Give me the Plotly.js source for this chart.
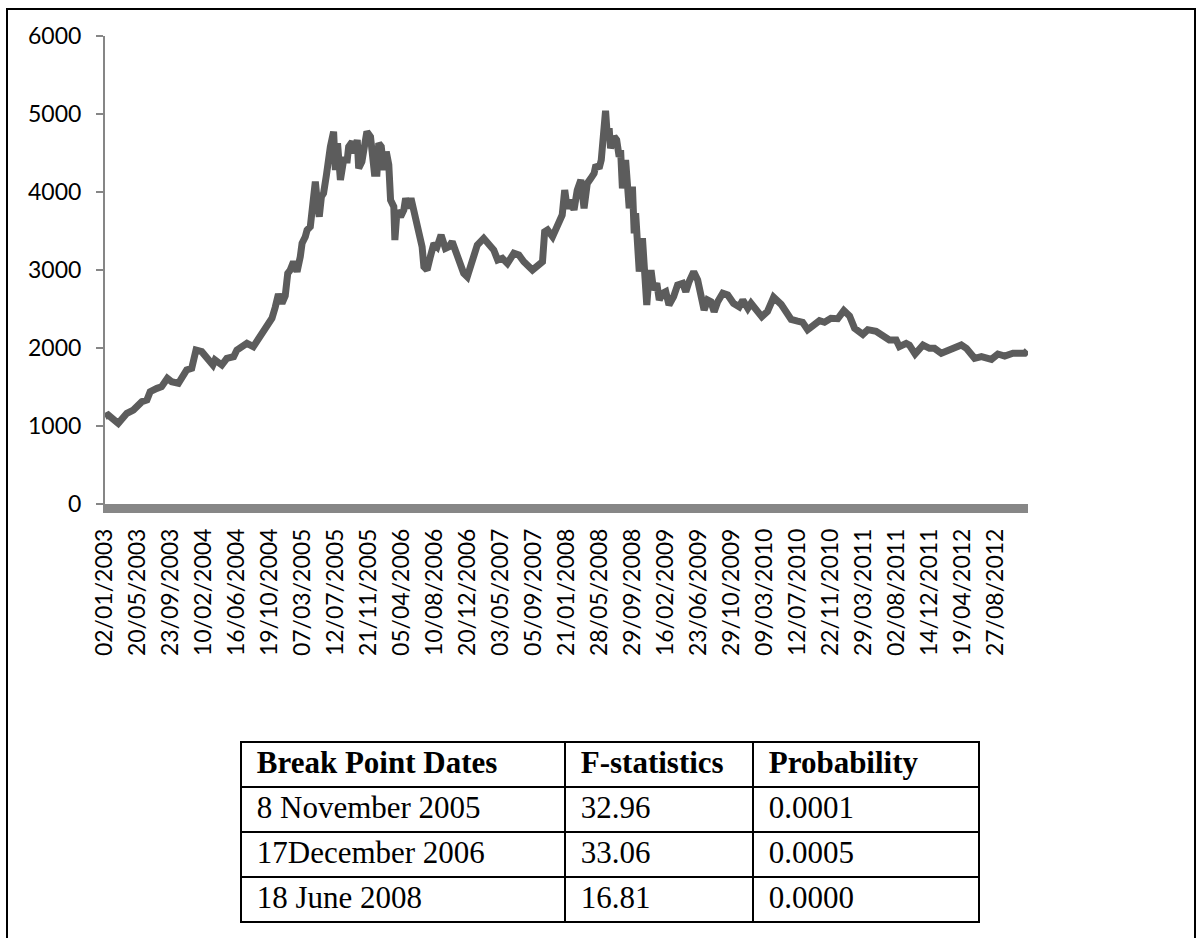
<!DOCTYPE html>
<html>
<head>
<meta charset="utf-8">
<script src="https://cdn.plot.ly/plotly-3.0.1.min.js"></script>
<style>html,body{margin:0;padding:0;background:#fff;} #chart{width:1204px;height:938px;}</style>
</head>
<body>
<div id="chart"></div>
<script>
// Category tick labels (one every 92 observations)
const tickLabels = ["02/01/2003","20/05/2003","23/09/2003","10/02/2004","16/06/2004","19/10/2004","07/03/2005","12/07/2005","21/11/2005","05/04/2006","10/08/2006","20/12/2006","03/05/2007","05/09/2007","21/01/2008","28/05/2008","29/09/2008","16/02/2009","23/06/2009","29/10/2009","09/03/2010","12/07/2010","22/11/2010","29/03/2011","02/08/2011","14/12/2011","19/04/2012","27/08/2012"];
const labelStep = 92;

const day = [0,9,37,61,79,103,117,126,145,158,174,186,205,228,242,254,270,284,301,307,326,340,359,368,396,414,433,447,466,475,484,494,503,510,517,526,536,545,550,559,564,573,578,584,587,592,598,604,610,618,624,629,638,643,649,657,666,676,680,690,696,704,708,717,727,731,741,748,752,759,764,771,778,785,792,797,806,809,815,825,834,839,848,854,867,876,885,890,899,908,918,927,938,950,960,969,978,992,1001,1011,1020,1029,1039,1057,1071,1085,1096,1109,1123,1141,1155,1169,1193,1207,1221,1227,1235,1249,1258,1267,1276,1283,1290,1300,1309,1318,1328,1337,1346,1356,1365,1370,1379,1385,1391,1397,1402,1407,1411,1421,1428,1435,1439,1444,1453,1458,1463,1472,1477,1481,1491,1500,1505,1512,1519,1525,1531,1540,1547,1556,1565,1574,1587,1598,1612,1621,1630,1643,1654,1663,1672,1682,1691,1700,1710,1724,1738,1754,1770,1780,1794,1803,1817,1833,1849,1866,1887,1901,1915,1933,1947,1961,1980,1994,2008,2026,2045,2062,2078,2092,2115,2129,2152,2175,2189,2208,2217,2236,2245,2261,2283,2301,2315,2334,2357,2371,2390,2404,2418,2427,2446,2474,2492,2511,2534,2553,2567,2574];
const price = [1119,1141,1034,1163,1205,1312,1333,1440,1483,1504,1611,1568,1547,1718,1739,1974,1953,1868,1782,1846,1782,1868,1889,1974,2060,2017,2145,2231,2381,2520,2690,2573,2668,2958,3000,3106,2979,3170,3342,3427,3513,3555,3727,3897,4132,3897,3683,3940,3983,4218,4453,4581,4773,4282,4624,4154,4410,4410,4581,4645,4496,4667,4304,4389,4667,4773,4709,4410,4239,4239,4624,4581,4282,4517,4350,3897,3812,3384,3760,3683,3769,3919,3791,3919,3641,3470,3299,3042,3000,3170,3342,3299,3449,3278,3299,3363,3256,3106,2958,2914,3064,3214,3320,3406,3320,3256,3128,3150,3085,3214,3192,3106,3000,3064,3106,3491,3513,3427,3534,3641,3705,4025,3791,3897,3769,4025,4154,3791,4111,4175,4239,4346,4304,4410,4837,5042,4709,4816,4560,4709,4667,4453,4538,4047,4410,4068,3791,4068,3470,3727,2979,3406,2979,2551,2958,2958,2744,2829,2615,2701,2722,2551,2658,2808,2829,2722,2850,2979,2872,2701,2487,2615,2594,2465,2594,2701,2679,2573,2529,2615,2508,2573,2487,2401,2470,2650,2560,2445,2367,2345,2330,2235,2305,2350,2330,2381,2375,2480,2410,2252,2175,2235,2215,2145,2102,2102,2017,2060,2038,1923,2038,1996,1996,1932,1974,1996,2038,1996,1910,1868,1889,1855,1923,1897,1932,1923,1932,1966];

// Table contents
const tableHeader = ["Break Point Dates","F-statistics","Probability"];
const breakDates = ["8 November 2005","17December 2006","18 June 2008"];
const fStats = ["32.96","33.06","16.81"];
const probs = ["0.0001","0.0005","0.0000"];

const tickVals = tickLabels.map((_, i) => i * labelStep);
const nb = "\u00a0";

// pixel helpers for layout (paper area: x 105..1028, y 36..928)
const W = 1204, H = 938, mL = 105, mR = 176, mT = 36, mB = 10;
const pw = W - mL - mR, ph = H - mT - mB;
const px = x => (x - mL) / pw;
const py = y => (H - mB - y) / ph;

const tableCols = [breakDates, fStats, probs].map((col, i) =>
  [nb + tableHeader[i]].concat(col.map(t => nb + t)));
const rowWeights = tableCols.map(col => col.map((_, r) => r === 0 ? 700 : 400));

const traces = [
  {
    type: "scatter", mode: "lines",
    x: day, y: price,
    line: {color: "#5c5c5c", width: 7},
    hoverinfo: "skip", showlegend: false
  },
  {
    type: "table",
    // the (empty) header strip of 16px sits just above the first row
    domain: {x: [px(241), px(979)], y: [0, py(726)]},
    columnwidth: [324, 188, 226],
    header: {values: [], height: 0, line: {color: "rgba(0,0,0,0)", width: 0}, fill: {color: "rgba(0,0,0,0)"}},
    cells: {
      values: tableCols,
      align: "left",
      height: 45,
      line: {color: "#000", width: 2},
      fill: {color: "#fff"},
      font: {family: "Liberation Serif, Times New Roman, serif", size: 31, color: "#000", weight: rowWeights}
    }
  }
];

const layout = {
  width: W, height: H,
  margin: {l: mL, r: mR, t: mT, b: mB, pad: 0},
  paper_bgcolor: "#fff", plot_bgcolor: "#fff",
  showlegend: false,
  font: {family: "Lato, Open Sans, sans-serif", color: "#000"},
  xaxis: {
    type: "linear",
    range: [0, 28 * labelStep],
    domain: [0, 1],
    tickmode: "array", tickvals: tickVals, ticktext: tickLabels,
    tickangle: -90,
    ticks: "",
    showgrid: false, zeroline: false,
    showline: true, linecolor: "#878787", linewidth: 9.4,
    tickfont: {family: "Lato, Open Sans, sans-serif", size: 23, color: "#000"},
    ticklabelstandoff: 6,
    fixedrange: true
  },
  yaxis: {
    range: [0, 6000],
    domain: [py(504), 1],
    tickmode: "array", tickvals: [0,1000,2000,3000,4000,5000,6000],
    ticks: "outside", ticklen: 7, tickwidth: 1.5, tickcolor: "#868686",
    showgrid: false, zeroline: false,
    showline: true, linecolor: "#868686", linewidth: 2,
    tickfont: {family: "Lato, Open Sans, sans-serif", size: 23, color: "#000"},
    ticklabelstandoff: 10,
    fixedrange: true
  },
  shapes: [
    {type: "rect", xref: "paper", yref: "paper",
     x0: px(7), x1: px(1195), y0: py(950), y1: py(9),
     line: {color: "#000", width: 2}, fillcolor: "rgba(0,0,0,0)", layer: "above"}
  ]
};

Plotly.newPlot("chart", traces, layout, {displayModeBar: false, staticPlot: true});
</script>
</body>
</html>
